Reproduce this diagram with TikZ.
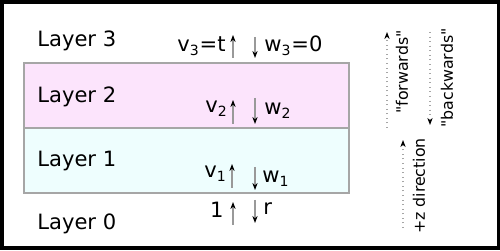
\documentclass[tikz,border=0pt]{standalone}
\usepackage{fontspec}
\setmainfont{DejaVu Sans}[Ligatures=TeXOff]
\usetikzlibrary{arrows.meta,positioning}
\definecolor{slabpink}{RGB}{252,228,252}
\definecolor{slabcyan}{RGB}{238,254,254}

\begin{document}
\begin{tikzpicture}[
    x=0.02cm,
    y=0.02cm,
    frame/.style={black, line width=2pt},
    slab/.style={draw=gray!70, line width=0.6pt},
    lab/.style={font=\fontsize{12}{14}\selectfont, inner sep=0pt},
    note/.style={font=\fontsize{9}{11}\selectfont, rotate=90, inner sep=0pt},
    flux/.style={gray!80, line width=0.6pt, -{Stealth[length=4pt, width=3pt, black]}},
    dir/.style={gray!70, dotted, line width=0.6pt, -{Stealth[length=4pt, width=3pt, black]}}
  ]
    \useasboundingbox (0,0) rectangle (500,250);
    \draw[frame] (1.75,1.75) rectangle (498.25,248.25);
    \draw[slab, fill=slabcyan] (24,57) rectangle (349,122);
    \draw[slab, fill=slabpink] (24,122) rectangle (349,187);
    \foreach \i/\y in {0/20,1/83,2/147,3/203} {
      \node[lab, anchor=base west] (layer\i) at (37,\y) {Layer \i};
    }
    % fluxes between layers
    \coordinate (up3a) at (233,192); \coordinate (up3b) at (233,215);
    \coordinate (dn3a) at (255,213); \coordinate (dn3b) at (255,192);
    \coordinate (up2a) at (233,126); \coordinate (up2b) at (233,150);
    \coordinate (dn2a) at (255,152); \coordinate (dn2b) at (255,126);
    \coordinate (up1a) at (232,62);  \coordinate (up1b) at (232,86);
    \coordinate (dn1a) at (255,83);  \coordinate (dn1b) at (255,60);
    \coordinate (up0a) at (233,25);  \coordinate (up0b) at (233,48);
    \coordinate (dn0a) at (255,50);  \coordinate (dn0b) at (255,27);
    \draw[flux] (up3a) -- (up3b);
    \draw[flux] (dn3a) -- (dn3b);
    \draw[flux] (up2a) -- (up2b);
    \draw[flux] (dn2a) -- (dn2b);
    \draw[flux] (up1a) -- (up1b);
    \draw[flux] (dn1a) -- (dn1b);
    \draw[flux] (up0a) -- (up0b);
    \draw[flux] (dn0a) -- (dn0b);
    \node[lab, anchor=base east] (v3) at (226,198) {v\textsubscript{3}=t};
    \node[lab, anchor=base west] (w3) at (264,198) {w\textsubscript{3}=0};
    \node[lab, anchor=base east] (v2) at (228,137) {v\textsubscript{2}};
    \node[lab, anchor=base west] (w2) at (264,135) {w\textsubscript{2}};
    \node[lab, anchor=base east] (v1) at (227,72) {v\textsubscript{1}};
    \node[lab, anchor=base west] (w1) at (262,67) {w\textsubscript{1}};
    \node[lab, anchor=base east] (one) at (224,32) {1};
    \node[lab, anchor=base west] (r) at (263,35) {r};
    % direction key
    \coordinate (fwa) at (387,122); \coordinate (fwb) at (387,218);
    \coordinate (bwa) at (430,218); \coordinate (bwb) at (430,125);
    \coordinate (za) at (403,22);   \coordinate (zb) at (403,110);
    \draw[dir] (fwa) -- (fwb);
    \draw[dir] (bwa) -- (bwb);
    \draw[dir] (za) -- (zb);
    \node[note] (fw) at (402,178) {"forwards"};
    \node[note] (bw) at (447,172) {"backwards"};
    \node[note] (zdir) at (419,64) {+z direction};
\end{tikzpicture}
\end{document}
